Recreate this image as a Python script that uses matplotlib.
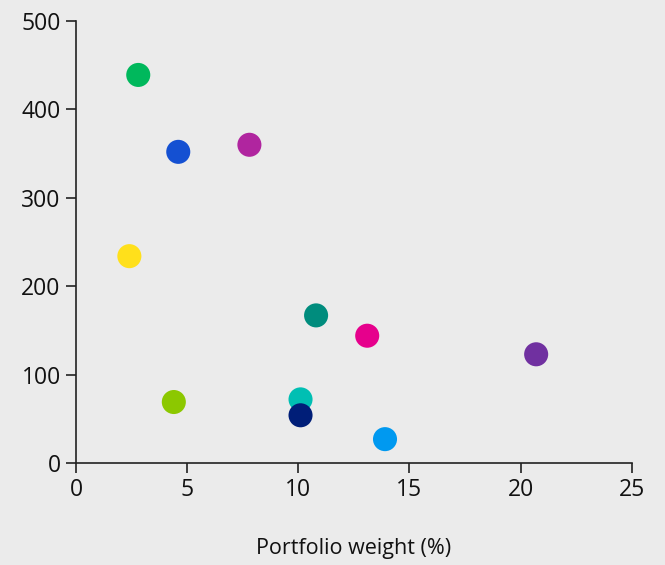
import matplotlib
matplotlib.use("Agg")
import matplotlib.pyplot as plt

# Dados
peso = [2.8, 4.6, 7.8, 2.4, 10.8, 13.1, 20.7, 4.4, 10.1, 10.1, 13.9]
valor = [439, 352, 360, 234, 167, 144, 123, 69, 72, 54, 27]
cores = ['#00b85c', '#1450d2', '#b0259f', '#ffe01b', '#008c7d', '#e6008c',
         '#7030a0', '#8cc800', '#00bfb3', '#001e78', '#0099f0']

plt.rcParams['font.family'] = ['Open Sans', 'DejaVu Sans']

fig = plt.figure(figsize=(6.65, 5.65), dpi=100, facecolor='#ebebeb')
ax = fig.add_axes([0.1143, 0.1805, 0.8357, 0.7823])
ax.set_facecolor('#ebebeb')

ax.scatter(peso, valor, s=300, c=cores, linewidths=0, zorder=3)

ax.set_xlim(0, 25)
ax.set_ylim(0, 500)
ax.set_xticks([0, 5, 10, 15, 20, 25])
ax.set_yticks([0, 100, 200, 300, 400, 500])
ax.spines['top'].set_visible(False)
ax.spines['right'].set_visible(False)
for s in ['left', 'bottom']:
    ax.spines[s].set_color('#222222')
    ax.spines[s].set_linewidth(1.2)
ax.tick_params(axis='both', direction='out', length=7, width=1.2, colors='#222222',
               labelsize=16.5, labelcolor='#111111', pad=4)
ax.set_xlabel('Portfolio weight (%)', fontsize=15.5, color='#111111', labelpad=26)

fig.savefig('out.png', dpi=100, facecolor=fig.get_facecolor())
